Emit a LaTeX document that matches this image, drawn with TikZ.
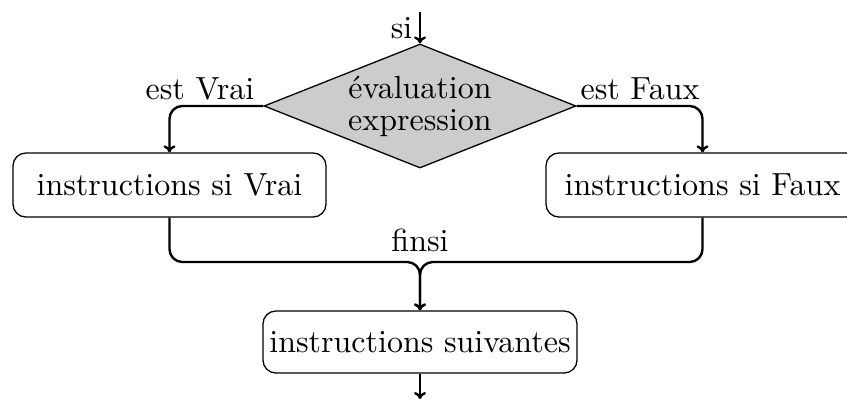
\documentclass[tikz,border=0pt]{standalone}
\usepackage{fontspec}
\usetikzlibrary{shapes.geometric,arrows.meta}
% Latin Modern at its 10pt design size, enlarged
\newfontface\tenrm{lmroman10-regular.otf}[Ligatures=TeX]
\begin{document}
\begin{tikzpicture}[x=1pt,y=-1pt,
  every node/.style={font=\tenrm\fontsize{32}{38}\selectfont},
  stepbox/.style={draw,line width=1.3pt,rounded corners=12.8pt,minimum height=63pt,inner sep=0pt},
  testbox/.style={draw,line width=1.3pt,diamond,fill=black!20,aspect=2.52,inner sep=0pt,
    minimum width=312pt,minimum height=124pt,align=center},
  flow/.style={-{To[length=7pt,width=12pt]},line width=2.4pt,rounded corners=12.8pt},
  lbl/.style={inner sep=0pt}]
  \useasboundingbox (0,0) rectangle (847,400);
  \coordinate (start) at (420,12);
  \node[testbox] (test) at (420,106) {évaluation\\[-6pt]expression};
  \node[stepbox,minimum width=313pt,minimum height=64pt] (vrai) at (169.5,185) {instructions si Vrai};
  \node[stepbox,minimum width=313pt,minimum height=64pt] (faux) at (702.5,185) {instructions si Faux};
  \node[stepbox,minimum width=314pt,minimum height=62pt] (suite) at (420,342) {instructions suivantes};
  \coordinate (merge) at (420,262);
  \coordinate (stop) at (420,399);

  \draw[flow] (start) -- (test.north);
  \draw[flow] (test.west) -| (vrai.north);
  \draw[flow] (test.east) -| (faux.north);
  \draw[flow] (vrai.south) |- (merge) -- (suite.north);
  \draw[flow] (faux.south) |- (merge) -- (suite.north);
  \draw[flow] (suite.south) -- (stop);

  \node[lbl,anchor=east] (lsi) at (412.5,28) {si};
  \node[lbl] (lvrai) at (200,89) {est Vrai};
  \node[lbl] (lfaux) at (640,89) {est Faux};
  \node[lbl] (lfinsi) at (420,240) {finsi};
\end{tikzpicture}
\end{document}
